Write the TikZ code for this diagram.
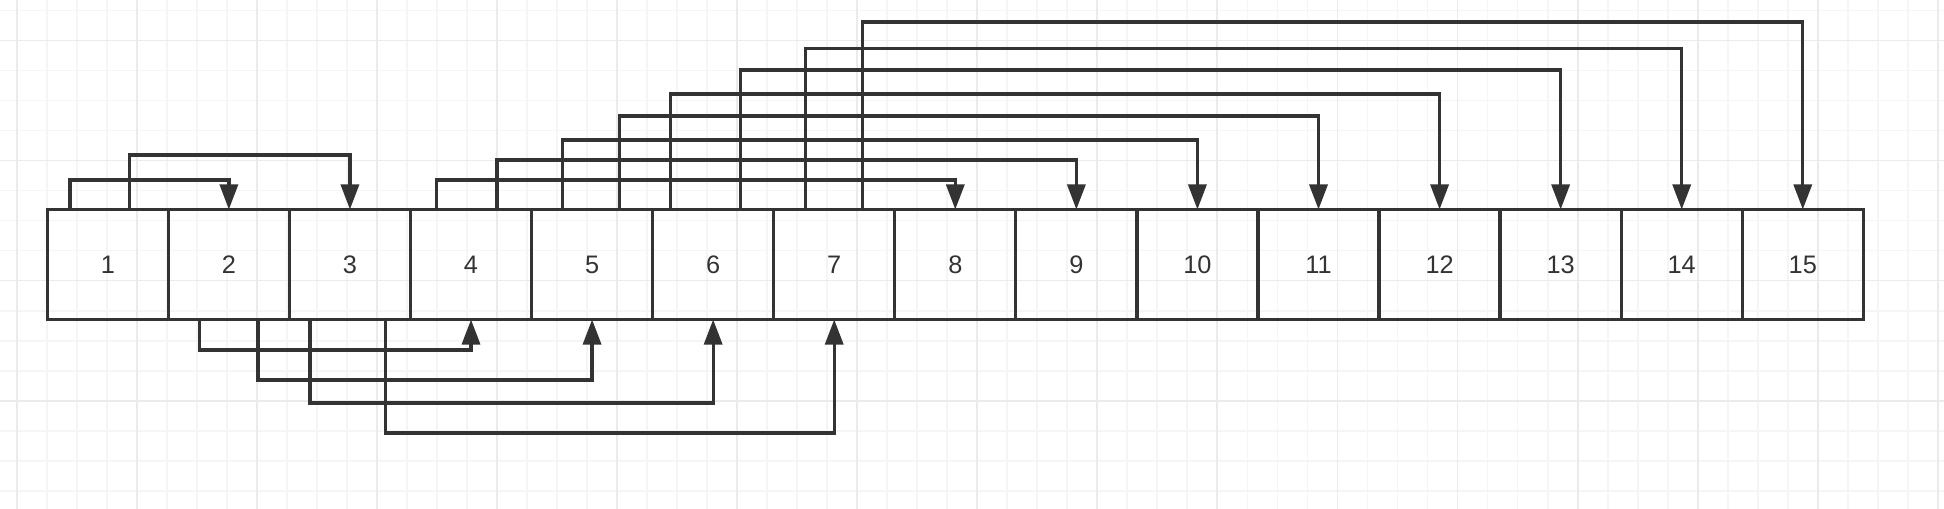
\documentclass[tikz,border=0pt]{standalone}
\usepackage{fontspec}
\setmainfont{Liberation Sans}
\usepackage{xcolor}
\usepackage{tikz}
\usetikzlibrary{positioning}
\usetikzlibrary{arrows.meta}

\definecolor{linegray}{HTML}{333333}
\definecolor{minorgray}{HTML}{F5F5F5}
\definecolor{majorgray}{HTML}{EBEBEB}

\tikzset{
  cell/.style={draw=linegray, line width=0.033cm, minimum width=1.21cm, minimum height=1.10cm,
    inner sep=0pt, outer sep=0pt, text=linegray, font=\fontsize{7.2}{8}\selectfont},
  link/.style={draw=linegray, line width=0.033cm, -{Triangle[length=0.25cm,width=0.18cm]}},
  minorgrid/.style={draw=minorgray, line width=0.018cm},
  majorgrid/.style={draw=majorgray, line width=0.018cm}
}

\begin{document}
\begin{tikzpicture}[x=0.01cm,y=0.01cm]

\useasboundingbox (0,0) rectangle (1944,508);

% background grid
\begin{scope}
\clip (0,0) rectangle (1944,508);
\draw[minorgrid,shift={(16.7,17.3)}] (-60,-60) grid[step=0.3cm] (1980,540);
\draw[majorgrid,shift={(16.7,-12.7)}] (-120,-120) grid[step=1.2cm] (2040,640);
\end{scope}

% the row of cells
\node[cell] (n1) at (107.8,243.5) {1};
\node[cell, right=0pt of n1] (n2) {2};
\node[cell, right=0pt of n2] (n3) {3};
\node[cell, right=0pt of n3] (n4) {4};
\node[cell, right=0pt of n4] (n5) {5};
\node[cell, right=0pt of n5] (n6) {6};
\node[cell, right=0pt of n6] (n7) {7};
\node[cell, right=0pt of n7] (n8) {8};
\node[cell, right=0pt of n8] (n9) {9};
\node[cell, right=0pt of n9] (n10) {10};
\node[cell, right=0pt of n10] (n11) {11};
\node[cell, right=0pt of n11] (n12) {12};
\node[cell, right=0pt of n12] (n13) {13};
\node[cell, right=0pt of n13] (n14) {14};
\node[cell, right=0pt of n14] (n15) {15};

% links above the row
\draw[link] ([xshift=-0.378cm]n1.north) -- ++(0,29.5) -| (n2.north);
\draw[link] ([xshift=0.215cm]n1.north) -- ++(0,54.5) -| (n3.north);

\draw[link] ([xshift=-0.348cm]n4.north) -- ++(0,29.5) -| (n8.north);
\draw[link] ([xshift=0.259cm]n4.north) -- ++(0,49.5) -| (n9.north);

\draw[link] ([xshift=-0.295cm]n5.north) -- ++(0,69.5) -| (n10.north);
\draw[link] ([xshift=0.272cm]n5.north) -- ++(0,93.5) -| (n11.north);

\draw[link] ([xshift=-0.428cm]n6.north) -- ++(0,115.5) -| (n12.north);
\draw[link] ([xshift=0.272cm]n6.north) -- ++(0,139.5) -| (n13.north);

\draw[link] ([xshift=-0.288cm]n7.north) -- ++(0,161) -| (n14.north);
\draw[link] ([xshift=0.282cm]n7.north) -- ++(0,187.5) -| (n15.north);

% links below the row
\draw[link] ([xshift=-0.292cm]n2.south) -- ++(0,-30.5) -| (n4.south);
\draw[link] ([xshift=0.291cm]n2.south) -- ++(0,-60.5) -| (n5.south);

\draw[link] ([xshift=-0.400cm]n3.south) -- ++(0,-83.5) -| (n6.south);
\draw[link] ([xshift=0.352cm]n3.south) -- ++(0,-113.5) -| (n7.south);

\end{tikzpicture}
\end{document}
